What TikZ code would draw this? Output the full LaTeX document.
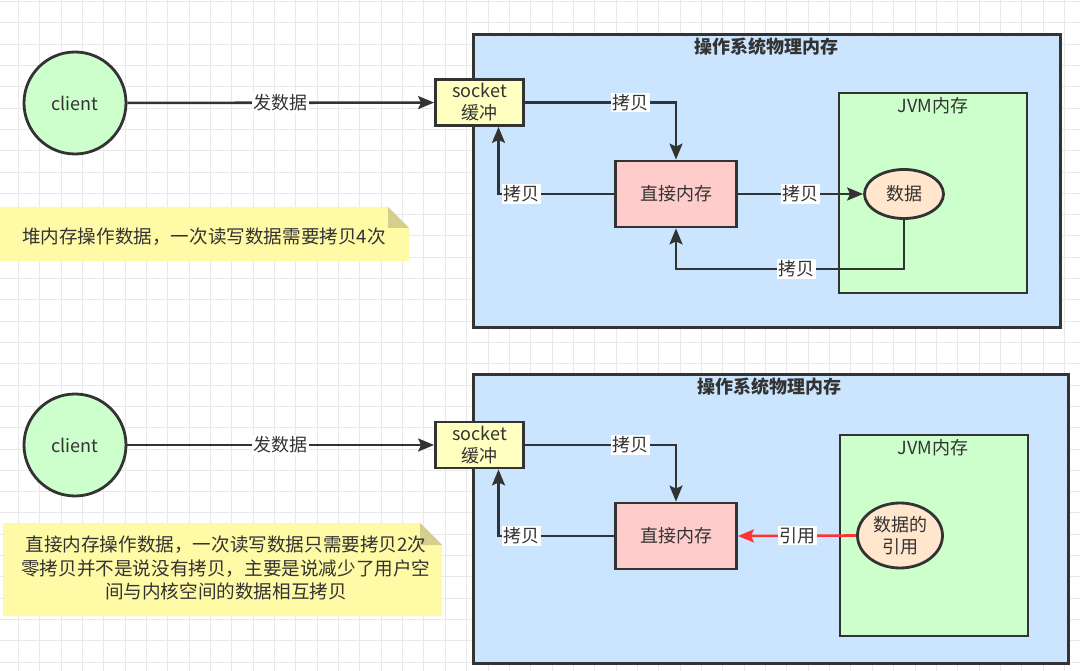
\documentclass[tikz,border=0pt]{standalone}
\usepackage{fontspec}
\setmainfont{Noto Sans CJK SC}
\usetikzlibrary{arrows.meta,shapes.geometric}
\definecolor{lc}{HTML}{333333}
\definecolor{tc}{HTML}{333333}
\definecolor{gridc}{HTML}{E8E8E8}
\definecolor{osfill}{HTML}{CCE5FF}
\definecolor{jvmfill}{HTML}{CCFFCC}
\definecolor{sockfill}{HTML}{FFFFC0}
\definecolor{dmfill}{HTML}{FFCCCC}
\definecolor{datafill}{HTML}{FFE6CC}
\definecolor{notefill}{HTML}{FFFAA6}
\definecolor{foldfill}{HTML}{D4CF8C}
\definecolor{refred}{HTML}{FF3333}
\newcommand\lbfont{\fontsize{18}{22}\selectfont}
\newcommand\ntfont{\fontsize{18.6}{23.5}\selectfont}
\begin{document}
\begin{tikzpicture}[x=1pt,y=-1pt,
  every node/.style={text=tc, font=\lbfont, inner sep=0pt},
  box/.style={draw=lc, line width=2.8pt, rectangle},
  osbox/.style={box, fill=osfill, line width=3pt},
  jvmbox/.style={box, fill=jvmfill},
  sockbox/.style={box, fill=sockfill, minimum width=88pt, minimum height=46pt, align=center},
  dmbox/.style={box, fill=dmfill, minimum width=121pt, minimum height=66pt},
  datanode/.style={draw=lc, line width=2.8pt, ellipse, fill=datafill, align=center},
  clientnode/.style={draw=lc, line width=2.8pt, circle, fill=jvmfill, minimum size=102pt},
  titletext/.style={font=\lbfont\bfseries},
  lbl/.style={fill=white, inner sep=1.5pt},
  conn/.style={draw=lc, line width=2.6pt, -{Stealth[length=16pt,width=13pt,inset=3pt]}},
  redconn/.style={draw=refred, line width=2.6pt, -{Stealth[length=16pt,width=13pt,inset=3pt]}},
  notetext/.style={font=\ntfont, align=center}
]
\useasboundingbox (0,0) rectangle (1080,671);
\fill[white] (0,0) rectangle (1080,671);
% grid
\foreach \i in {0,...,50} \draw[gridc, line width=1pt] ({18.3+21.35*\i},0) -- ({18.3+21.35*\i},671);
\foreach \j in {0,...,31} \draw[gridc, line width=1pt] (0,{1.7+21.3*\j}) -- (1080,{1.7+21.3*\j});

% notes
\fill[notefill] (0,207) -- (388,207) -- (409,228) -- (409,261) -- (0,261) -- cycle;
\fill[foldfill] (388,207) -- (388,228) -- (409,228) -- cycle;
\node[notetext] (note1) at (204,237) {堆内存操作数据，一次读写数据需要拷贝4次};
\fill[notefill] (3,523) -- (420,523) -- (442,545) -- (442,616) -- (3,616) -- cycle;
\fill[foldfill] (420,523) -- (420,545) -- (442,545) -- cycle;
\node[notetext] (note2) at (226,568) {直接内存操作数据，一次读写数据只需要拷贝2次\\零拷贝并不是说没有拷贝，主要是说减少了用户空\\间与内核空间的数据相互拷贝};

% ===== top diagram =====
\node[osbox, minimum width=587pt, minimum height=293pt] (os1) at (766.5,181.5) {};
\node[titletext] (os1t) at (766,47) {操作系统物理内存};
\node[jvmbox, minimum width=188pt, minimum height=200pt] (jvm1) at (933,193) {};
\node (jvm1t) at (933,106) {JVM内存};
\node[clientnode] (client1) at (75,103) {client};
\node[sockbox] (socket1) at (479.5,102.5) {socket\\缓冲};
\node[dmbox] (dm1) at (676,194) {直接内存};
\node[datanode, minimum width=79pt, minimum height=49pt] (data1) at (904,194) {数据};
\coordinate (ret1) at (904,269);

\draw[conn] (client1) -- node[lbl]{发数据} (socket1);
\draw[conn] (socket1.east) -| node[lbl,pos=0.35]{拷贝} (dm1.north);
\draw[conn] (dm1.west) -| node[lbl,pos=0.4]{拷贝} ([xshift=19pt]socket1.south);
\draw[conn] (dm1.east) -- node[lbl]{拷贝} (data1.west);
\draw[conn] (data1.south) -- (ret1) -| node[lbl,pos=0.235]{拷贝} (dm1.south);

% ===== bottom diagram =====
\node[osbox, minimum width=595pt, minimum height=289pt] (os2) at (770.5,518.5) {};
\node[titletext] (os2t) at (769,387) {操作系统物理内存};
\node[jvmbox, minimum width=188pt, minimum height=201pt] (jvm2) at (934,535.5) {};
\node (jvm2t) at (933,448) {JVM内存};
\node[clientnode] (client2) at (75,445) {client};
\node[sockbox] (socket2) at (479.5,445) {socket\\缓冲};
\node[dmbox] (dm2) at (676,536) {直接内存};
\node[datanode, minimum width=85pt, minimum height=65pt] (data2) at (900,535.5) {数据的\\引用};

\draw[conn] (client2) -- node[lbl]{发数据} (socket2);
\draw[conn] (socket2.east) -| node[lbl,pos=0.35]{拷贝} (dm2.north);
\draw[conn] (dm2.west) -| node[lbl,pos=0.4]{拷贝} ([xshift=19pt]socket2.south);
\draw[redconn] (data2.west) -- node[lbl]{引用} (dm2.east);
\end{tikzpicture}
\end{document}
